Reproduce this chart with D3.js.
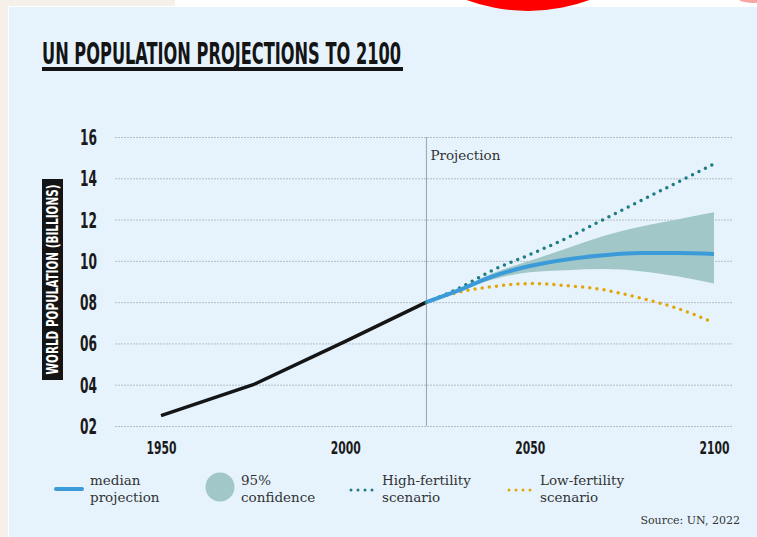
<!DOCTYPE html>
<html>
<head>
<meta charset="utf-8">
<script src="https://cdn.jsdelivr.net/npm/d3@7"></script>
<style>
  body { margin: 0; background: #ffffff; }
  .cond { font-family: 'DejaVu Sans Condensed', 'Liberation Sans Narrow', 'Roboto', sans-serif; font-weight: bold; }
  .serif { font-family: 'DejaVu Serif', 'Liberation Serif', serif; }
</style>
</head>
<body>
<svg id="chart" width="757" height="537"></svg>
<script>
// --- data (billions) ---
const historyYears = [1950, 1975, 2000, 2022];
const historyValues = [2.5, 4.0, 6.1, 8.0];

const projYears = [2022, 2030, 2040, 2050, 2060, 2070, 2080, 2090, 2100];
const medianValues = [8.0, 8.52, 9.25, 9.75, 10.07, 10.27, 10.38, 10.38, 10.33];
const upperValues  = [8.0, 8.55, 9.4, 10.0, 10.6, 11.2, 11.65, 12.0, 12.35];
const lowerValues  = [8.0, 8.5, 9.1, 9.45, 9.55, 9.6, 9.5, 9.25, 8.9];
const highValues   = [8.0, 8.6, 9.55, 10.3, 11.1, 12.0, 12.9, 13.8, 14.7];
const lowValues    = [8.0, 8.45, 8.75, 8.9, 8.8, 8.6, 8.2, 7.7, 7.0];

const yTicks = [2, 4, 6, 8, 10, 12, 14, 16];
const xTicks = [1950, 2000, 2050, 2100];
const projectionStart = 2022;

const legendItems = [
  { kind: "line",   lines: ["median", "projection"] },
  { kind: "circle", lines: ["95%", "confidence"] },
  { kind: "high",   lines: ["High-fertility", "scenario"] },
  { kind: "low",    lines: ["Low-fertility", "scenario"] }
];

const colors = {
  bg: "#e6f3fd", median: "#3b9bd9", band: "#a1c7c8",
  high: "#1f7c80", low: "#e2a60a", hist: "#151515", grid: "#b5bec6"
};

const svg = d3.select("#chart");

// page decorations around the panel
svg.append("rect").attr("x", 0).attr("y", 0).attr("width", 175).attr("height", 537).attr("fill", "#f5f0ea");
svg.append("rect").attr("x", 8).attr("y", 6).attr("width", 749).attr("height", 531).attr("fill", "#ffffff");
svg.append("rect").attr("x", 9).attr("y", 7).attr("width", 748).attr("height", 530).attr("fill", colors.bg);
svg.append("circle").attr("cx", 528).attr("cy", -166).attr("r", 177).attr("fill", "#ff0000");
svg.append("ellipse").attr("cx", 752).attr("cy", -2).attr("rx", 14).attr("ry", 5).attr("fill", "#f7a5a5");

// title
svg.append("text").attr("class", "cond")
  .attr("x", 42).attr("y", 64)
  .attr("font-size", 31).attr("fill", "#141414")
  .attr("textLength", 359).attr("lengthAdjust", "spacingAndGlyphs")
  .text("UN POPULATION PROJECTIONS TO 2100");
svg.append("rect").attr("x", 42).attr("y", 67).attr("width", 361).attr("height", 4).attr("fill", "#141414");

// scales
const x = d3.scaleLinear().domain([1950, 2100]).range([161, 714]);
const y = d3.scaleLinear().domain([2, 16]).range([426, 137]);

// grid
const grid = svg.append("g").attr("transform", "translate(115,0)")
  .call(d3.axisRight(y).tickValues(yTicks).tickSize(617).tickFormat(""));
grid.select(".domain").remove();
grid.selectAll("line").attr("stroke", colors.grid).attr("stroke-dasharray", "2,1").attr("stroke-width", 1);

// y labels
const yAxis = svg.append("g").attr("transform", "translate(80,0)")
  .call(d3.axisLeft(y).tickValues(yTicks).tickSize(0).tickFormat(d3.format("02d")));
yAxis.select(".domain").remove();
yAxis.selectAll("text").attr("class", "cond")
  .attr("text-anchor", "start").attr("x", 0).attr("dy", "0.36em")
  .attr("font-size", 21).attr("fill", "#1a1a1a")
  .attr("textLength", 17).attr("lengthAdjust", "spacingAndGlyphs");

// x labels
const xAxis = svg.append("g").attr("transform", "translate(0,426)")
  .call(d3.axisBottom(x).tickValues(xTicks).tickSize(0).tickFormat(d3.format("d")));
xAxis.select(".domain").remove();
xAxis.selectAll("text").attr("class", "cond")
  .attr("y", 28).attr("dy", 0)
  .attr("font-size", 18).attr("fill", "#1a1a1a")
  .attr("textLength", 30).attr("lengthAdjust", "spacingAndGlyphs");

// y axis title box
svg.append("rect").attr("x", 42).attr("y", 179).attr("width", 21).attr("height", 201).attr("fill", "#141414");
svg.append("text").attr("class", "cond")
  .attr("transform", "translate(58,279.5) rotate(-90)")
  .attr("text-anchor", "middle").attr("font-size", 15).attr("fill", "#ffffff")
  .attr("textLength", 190).attr("lengthAdjust", "spacingAndGlyphs")
  .text("WORLD POPULATION (BILLIONS)");

// projection divider
svg.append("line")
  .attr("x1", x(projectionStart)).attr("x2", x(projectionStart))
  .attr("y1", y(16)).attr("y2", y(2))
  .attr("stroke", "#9aa3ab").attr("stroke-width", 1);
svg.append("text").attr("class", "serif")
  .attr("x", x(projectionStart) + 4).attr("y", 160)
  .attr("font-size", 13.5).attr("fill", "#333")
  .text("Projection");

const proj = projYears.map((yr, i) => ({
  yr, med: medianValues[i], up: upperValues[i], lo: lowerValues[i], hi: highValues[i], low: lowValues[i]
}));

// confidence band
svg.append("path").datum(proj)
  .attr("fill", colors.band)
  .attr("d", d3.area().curve(d3.curveMonotoneX)
    .x(d => x(d.yr)).y0(d => y(d.lo)).y1(d => y(d.up)));

// history line
const hist = historyYears.map((yr, i) => ({ yr, v: historyValues[i] }));
svg.append("path").datum(hist)
  .attr("fill", "none").attr("stroke", colors.hist).attr("stroke-width", 3.5)
  .attr("stroke-linecap", "butt")
  .attr("d", d3.line().x(d => x(d.yr)).y(d => y(d.v)));

const projLine = key => d3.line().curve(d3.curveMonotoneX).x(d => x(d.yr)).y(d => y(d[key]));

// scenarios
svg.append("path").datum(proj)
  .attr("fill", "none").attr("stroke", colors.low).attr("stroke-width", 3.5)
  .attr("stroke-linecap", "round").attr("stroke-dasharray", "0,7.2")
  .attr("d", projLine("low"));
svg.append("path").datum(proj)
  .attr("fill", "none").attr("stroke", colors.high).attr("stroke-width", 3.5)
  .attr("stroke-linecap", "round").attr("stroke-dasharray", "0,7.2")
  .attr("d", projLine("hi"));
svg.append("path").datum(proj)
  .attr("fill", "none").attr("stroke", colors.median).attr("stroke-width", 4)
  .attr("d", projLine("med"));

// legend
const legendX = [56, 206, 349, 507];
const textX = [90, 241, 382, 540];
const legend = svg.append("g");
legendItems.forEach((item, i) => {
  const g = legend.append("g");
  if (item.kind === "line") {
    g.append("line").attr("x1", legendX[i]).attr("x2", legendX[i] + 26).attr("y1", 489).attr("y2", 489)
      .attr("stroke", colors.median).attr("stroke-width", 4).attr("stroke-linecap", "round");
  } else if (item.kind === "circle") {
    g.append("circle").attr("cx", legendX[i] + 14).attr("cy", 487).attr("r", 14.5).attr("fill", colors.band);
  } else {
    g.append("line").attr("x1", legendX[i] + 2).attr("x2", legendX[i] + 26).attr("y1", 490).attr("y2", 490)
      .attr("stroke", item.kind === "high" ? colors.high : colors.low)
      .attr("stroke-width", 3).attr("stroke-linecap", "round").attr("stroke-dasharray", "0,7");
  }
  item.lines.forEach((t, j) => {
    g.append("text").attr("class", "serif")
      .attr("x", textX[i]).attr("y", 485 + j * 17)
      .attr("font-size", 13.5).attr("fill", "#333").text(t);
  });
});

svg.append("text").attr("class", "serif")
  .attr("x", 740).attr("y", 524).attr("text-anchor", "end")
  .attr("font-size", 11).attr("fill", "#333")
  .text("Source: UN, 2022");
</script>
</body>
</html>
